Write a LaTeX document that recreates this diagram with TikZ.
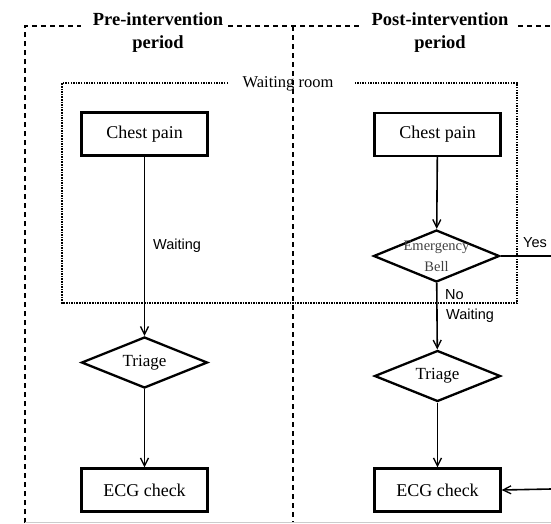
\documentclass[tikz,border=0pt]{standalone}
\usepackage{fontspec}
\setmainfont{Liberation Serif}
\setsansfont{Liberation Sans}
\usetikzlibrary{arrows.meta,shapes.geometric}
\begin{document}
\begin{tikzpicture}[x=1pt,y=-1pt,
  procbox/.style={draw,line width=2.3pt,minimum width=126pt,minimum height=43pt,inner sep=0pt,font=\fontsize{18}{20}\selectfont},
  decide/.style={draw,diamond,aspect=2.45,line width=2.3pt,minimum width=126pt,minimum height=51pt,inner sep=0pt,font=\fontsize{17}{19}\selectfont},
  flow/.style={line width=1.6pt,-{Straight Barb[length=8pt,width=8pt,line width=1.3pt]}},
  plainline/.style={line width=1.6pt},
  outer/.style={line width=1.6pt,dash pattern=on 5pt off 4pt},
  room/.style={line width=2.2pt,dash pattern=on 1.5pt off 1.1pt},
  lab/.style={font=\sffamily\fontsize{14.5}{16}\selectfont,inner sep=0pt},
  title/.style={font=\bfseries\fontsize{18.5}{23}\selectfont,align=center,inner sep=0pt}
]
\useasboundingbox (0,0) rectangle (551,523);

% outer dashed frames
\draw[outer] (25,523) -- (25,26) -- (81,26);
\draw[outer] (228,26) -- (360,26);
\draw[outer] (518,26) -- (551,26);
\draw[outer] (293,26) -- (293,523);
\draw[gray!40,line width=0.8pt] (25,522) -- (551,522);

\node[title] (pretitle) at (158,33) {Pre-intervention\\period};
\node[title] (posttitle) at (440,33) {Post-intervention\\period};

% waiting room
\draw[room] (228,83) -- (62,83) -- (62,303) -- (517,303) -- (517,83) -- (355,83);
\node[font=\fontsize{16.5}{18}\selectfont,inner sep=0pt] (wroom) at (288,84) {Waiting room};

% left column
\node[procbox] (cp1) at (144.5,134) {Chest pain};
\node[decide] (tr1) at (144.5,362.5) {Triage};
\node[procbox] (ecg1) at (144.5,490) {ECG check};

% right column
\node[procbox] (cp2) at (437.5,134.5) {Chest pain};
\node[decide,minimum height=52pt,
  label={[font=\fontsize{14.5}{21}\selectfont,text=black!75,align=center,inner sep=0pt]center:Emergency\\Bell}] (bell) at (436.5,256) {};
\node[decide] (tr2) at (437.5,376) {Triage};
\node[procbox] (ecg2) at (437.5,490) {ECG check};

\coordinate (yesend) at (551,256);
\coordinate (retstart) at (551,489);

\draw[flow] (cp1) -- (tr1);
\draw[flow] (tr1) -- (ecg1);
\draw[flow] (cp2) -- (bell);
\draw[flow] (bell) -- (tr2);
\draw[flow] (tr2) -- (ecg2);
\draw[plainline] (bell.east) -- (yesend);
\draw[flow] (retstart) -- (ecg2.east);

\node[lab,anchor=west] (w1) at (153,246) {Waiting};
\node[lab,anchor=west] (yes) at (523,243) {Yes};
\node[lab,anchor=west] (no) at (445,295) {No};
\node[lab,anchor=west] (w2) at (446,316) {Waiting};
\end{tikzpicture}
\end{document}
